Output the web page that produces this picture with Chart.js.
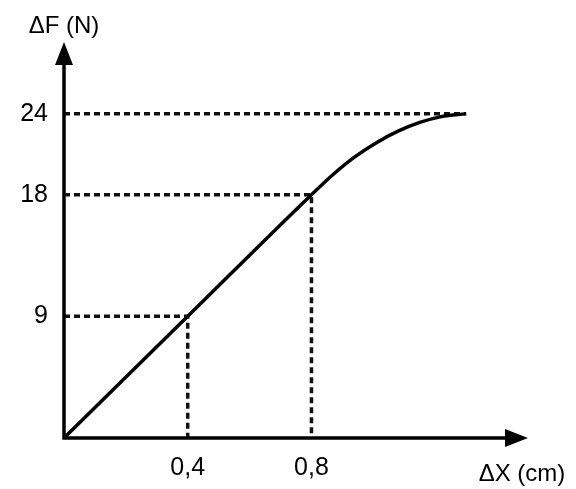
<!DOCTYPE html>
<html>
<head>
<meta charset="utf-8">
<script src="https://cdn.jsdelivr.net/npm/chart.js@4.4.0/dist/chart.umd.min.js"></script>
<style>
  html, body { margin: 0; padding: 0; background: #fff; }
  #wrap { width: 576px; height: 489px; }
</style>
</head>
<body>
<div id="wrap"><canvas id="graph" width="576" height="489"></canvas></div>
<script>
// Force / extension curve
const dxValues = [0, 0.4, 0.8, 0.87, 0.94, 1.01, 1.08, 1.15, 1.22, 1.30];
const dfValues = [0, 9, 18, 19.5, 20.8, 21.85, 22.7, 23.35, 23.78, 24];

// Dotted guide points (x, y)
const markX = [0.4, 0.8, 1.30];
const markY = [9, 18, 24];
const markDrop = [true, true, false];

// Tick labels
const xTicks = [0.4, 0.8];
const yTicks = [9, 18, 24];
const xAxisTitle = "ΔX (cm)";
const yAxisTitle = "ΔF (N)";

const FONT = "'Liberation Sans', Arial, sans-serif";

const curve = dxValues.map((x, i) => ({ x: x, y: dfValues[i] }));

// Build one dotted dataset per marked point
const guideSets = markX.map((x, i) => {
  const pts = [{ x: 0, y: markY[i] }, { x: x, y: markY[i] }];
  if (markDrop[i]) pts.push({ x: x, y: 0 });
  return {
    data: pts,
    showLine: true,
    borderColor: "#111",
    borderWidth: 3.5,
    borderDash: [6, 4],
    pointRadius: 0,
    clip: false,
    order: 2
  };
});

// Axes with arrow heads + axis titles
const arrowAxes = {
  id: "arrowAxes",
  afterDraw(chart) {
    const ctx = chart.ctx;
    const xs = chart.scales.x, ys = chart.scales.y;
    const ox = xs.getPixelForValue(0), oy = ys.getPixelForValue(0);
    const top = chart.chartArea.top, right = chart.chartArea.right;
    ctx.save();
    ctx.strokeStyle = "#000";
    ctx.fillStyle = "#000";
    ctx.lineWidth = 3.5;
    ctx.beginPath();
    ctx.moveTo(ox, oy + 1.5);
    ctx.lineTo(ox, top + 10);
    ctx.moveTo(ox - 1.5, oy);
    ctx.lineTo(right - 10, oy);
    ctx.stroke();
    // y arrow
    ctx.beginPath();
    ctx.moveTo(ox, top);
    ctx.lineTo(ox - 9, top + 23);
    ctx.lineTo(ox + 9, top + 23);
    ctx.closePath();
    ctx.fill();
    // x arrow
    ctx.beginPath();
    ctx.moveTo(right, oy);
    ctx.lineTo(right - 23, oy - 9);
    ctx.lineTo(right - 23, oy + 9);
    ctx.closePath();
    ctx.fill();
    // titles
    ctx.font = "24px " + FONT;
    ctx.textBaseline = "middle";
    ctx.textAlign = "center";
    ctx.fillText(yAxisTitle, ox, 26);
    ctx.fillText(xAxisTitle, 522, 474);
    ctx.restore();
  }
};

new Chart(document.getElementById("graph"), {
  type: "scatter",
  data: {
    datasets: [{
      data: curve,
      showLine: true,
      borderColor: "#000",
      borderWidth: 3.5,
      pointRadius: 0,
      cubicInterpolationMode: "monotone",
      clip: false,
      order: 1
    }].concat(guideSets)
  },
  options: {
    responsive: false,
    animation: false,
    layout: { padding: { top: 42, right: 48, left: 0, bottom: 0 } },
    plugins: { legend: { display: false }, tooltip: { enabled: false } },
    scales: {
      x: {
        type: "linear",
        min: 0,
        max: 1.5,
        grid: { display: false, drawTicks: false },
        border: { display: false },
        afterBuildTicks: s => { s.ticks = xTicks.map(v => ({ value: v })); },
        afterFit: s => { s.height = 51; },
        ticks: {
          color: "#000",
          padding: 15,
          font: { family: FONT, size: 25 },
          callback: v => String(v).replace(".", ",")
        }
      },
      y: {
        type: "linear",
        min: 0,
        max: 29.3,
        grid: { display: false, drawTicks: false },
        border: { display: false },
        afterBuildTicks: s => { s.ticks = yTicks.map(v => ({ value: v })); },
        afterFit: s => { s.width = 64; },
        ticks: {
          color: "#000",
          padding: 16,
          font: { family: FONT, size: 25 }
        }
      }
    }
  },
  plugins: [arrowAxes]
});
</script>
</body>
</html>
